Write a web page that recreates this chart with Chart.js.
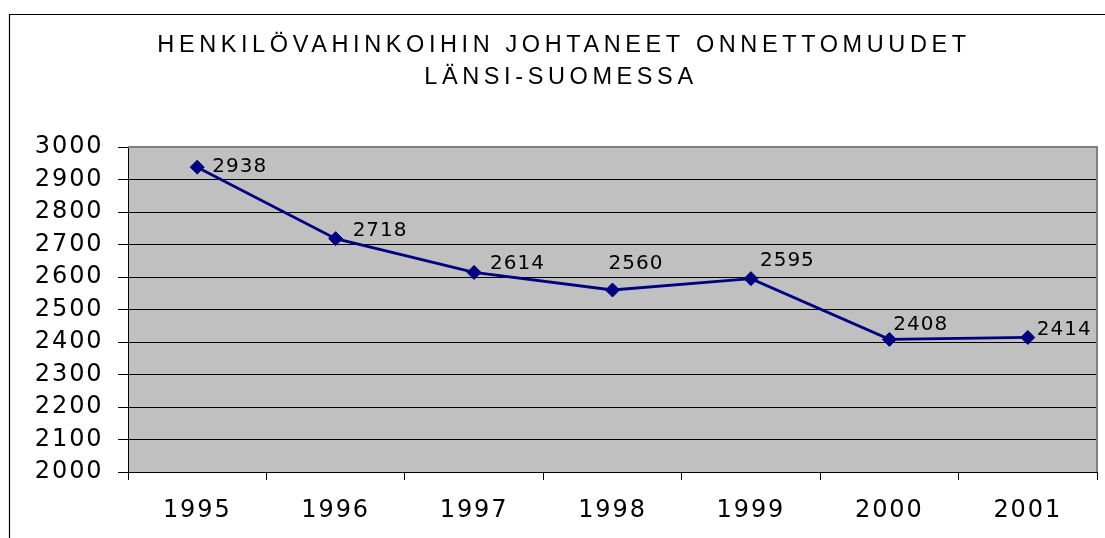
<!DOCTYPE html>
<html>
<head>
<meta charset="utf-8">
<script src="https://cdn.jsdelivr.net/npm/chart.js@4.4.1/dist/chart.umd.min.js"></script>
<style>
  html, body { margin: 0; padding: 0; background: #fff; }
  #wrap { width: 1105px; height: 538px; position: relative; }
</style>
</head>
<body>
<div id="wrap"><canvas id="c" width="1105" height="538"></canvas></div>
<script>
const titleLines = ['HENKILÖVAHINKOIHIN JOHTANEET ONNETTOMUUDET', 'LÄNSI-SUOMESSA'];
const years = ['1995', '1996', '1997', '1998', '1999', '2000', '2001'];
const accidents = [2938, 2718, 2614, 2560, 2595, 2408, 2414];
const yMin = 2000;
const yMax = 3000;
const yStep = 100;

// label nudges relative to each point (style, not data)
const labelNudges = [[15, 0], [17, -8], [16, -9], [-4, -26], [9, -18], [4, -15], [9, -8]];

const FONT = '"DejaVu Sans", Verdana, sans-serif';
const TITLE_FONT = '"Liberation Sans", Arial, sans-serif';

const decor = {
  id: 'decor',
  beforeDraw(chart) {
    const { ctx, chartArea: a } = chart;
    ctx.save();
    ctx.fillStyle = '#C0C0C0';
    ctx.fillRect(a.left, a.top, a.right - a.left, a.bottom - a.top);
    ctx.restore();
    ctx.letterSpacing = '1.9px';
  },
  beforeDatasetsDraw(chart) {
    const { ctx, chartArea: a } = chart;
    ctx.save();
    ctx.strokeStyle = '#808080';
    ctx.lineWidth = 2;
    ctx.beginPath();
    ctx.moveTo(a.left, a.top);
    ctx.lineTo(a.right, a.top);
    ctx.lineTo(a.right, a.bottom);
    ctx.stroke();
    ctx.restore();
  },
  afterDatasetsDraw(chart) {
    const { ctx } = chart;
    const meta = chart.getDatasetMeta(0);
    ctx.save();
    ctx.letterSpacing = '1px';
    ctx.font = '20px ' + FONT;
    ctx.fillStyle = '#000';
    ctx.textAlign = 'left';
    ctx.textBaseline = 'middle';
    meta.data.forEach((pt, i) => {
      const n = labelNudges[i];
      ctx.fillText(String(accidents[i]), pt.x + n[0], pt.y + n[1]);
    });
    ctx.restore();
  },
  afterDraw(chart) {
    const { ctx } = chart;
    ctx.save();
    ctx.letterSpacing = '4.6px';
    ctx.font = '23.5px ' + TITLE_FONT;
    ctx.fillStyle = '#000';
    ctx.textAlign = 'center';
    ctx.textBaseline = 'middle';
    ctx.fillText(titleLines[0], 564, 46);
    ctx.fillText(titleLines[1], 561, 78);
    ctx.letterSpacing = '0px';
    ctx.strokeStyle = '#000';
    ctx.lineWidth = 1.2;
    ctx.beginPath();
    ctx.moveTo(9.5, 538);
    ctx.lineTo(9.5, 14.5);
    ctx.lineTo(1105, 14.5);
    ctx.stroke();
    ctx.restore();
  }
};

new Chart(document.getElementById('c'), {
  type: 'line',
  data: {
    labels: years,
    datasets: [{
      data: accidents,
      borderColor: '#000080',
      backgroundColor: '#000080',
      borderWidth: 2.8,
      pointStyle: 'rectRot',
      pointRadius: 7,
      pointBorderWidth: 1,
      pointBackgroundColor: '#000080',
      pointBorderColor: '#000080',
      tension: 0,
      fill: false
    }]
  },
  options: {
    responsive: false,
    animation: false,
    layout: { padding: { top: 147, left: 0, right: 8, bottom: 0 } },
    plugins: {
      legend: { display: false },
      title: { display: false },
      tooltip: { enabled: false }
    },
    scales: {
      x: {
        offset: true,
        grid: {
          offset: true,
          drawOnChartArea: false,
          drawTicks: true,
          tickLength: 8,
          color: '#000',
          lineWidth: 1
        },
        border: { display: true, color: '#000', width: 1 },
        ticks: {
          color: '#000',
          font: { family: FONT, size: 24 },
          padding: 16,
          maxRotation: 0,
          autoSkip: false
        },
        afterFit(scale) { scale.height = 66; }
      },
      y: {
        min: yMin,
        max: yMax,
        grid: {
          color: '#000',
          lineWidth: 1,
          drawTicks: true,
          tickLength: 10
        },
        border: { display: true, color: '#000', width: 1 },
        ticks: {
          stepSize: yStep,
          color: '#000',
          font: { family: FONT, size: 24 },
          padding: 14.5,
          callback: (v) => String(v)
        },
        afterFit(scale) { scale.width = 128; }
      }
    }
  },
  plugins: [decor]
});
</script>
</body>
</html>
